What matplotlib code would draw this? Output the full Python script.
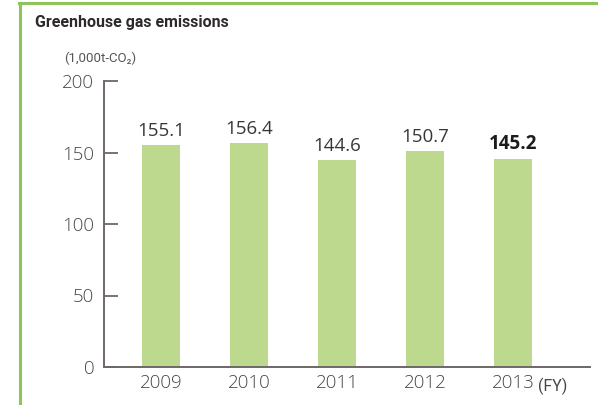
import matplotlib.pyplot as plt
from matplotlib.lines import Line2D

years = ["2009", "2010", "2011", "2012", "2013"]
emissions = [155.1, 156.4, 144.6, 150.7, 145.2]
y_ticks = [0, 50, 100, 150, 200]

BAR_COLOR = "#bcd98e"
AXIS_COLOR = "#6e6767"
TEXT_COLOR = "#4a4545"
FRAME_COLOR = "#8cc65a"

plt.rcParams["font.family"] = ["Open Sans", "DejaVu Sans"]

fig = plt.figure(figsize=(5.98, 4.05), dpi=100)

# green frame on the left and top
fig.add_artist(Line2D([20 / 598, 20 / 598], [0, 402 / 405], color=FRAME_COLOR, lw=2.2,
                      transform=fig.transFigure))
fig.add_artist(Line2D([19 / 598, 1], [402 / 405, 402 / 405], color=FRAME_COLOR, lw=2.2,
                      transform=fig.transFigure))

ax = fig.add_axes([104 / 598, 38 / 405, 486 / 598, 286 / 405])
x = list(range(len(years)))
ax.bar(x, emissions, width=0.43, color=BAR_COLOR, zorder=2)

ax.set_xlim(-0.648, 4.875)
ax.set_ylim(0, 200)
ax.set_yticks(y_ticks)
ax.set_yticklabels([str(v) for v in y_ticks], fontsize=13.5, color=TEXT_COLOR, fontweight="light")
ax.set_xticks(x)
ax.set_xticklabels(years, fontsize=13.5, color=TEXT_COLOR, fontweight="light")
ax.tick_params(axis="y", direction="in", length=10, width=1.3, color=AXIS_COLOR, pad=7)
ax.tick_params(axis="x", length=0, pad=5)

for side in ("top", "right"):
    ax.spines[side].set_visible(False)
for side in ("left", "bottom"):
    ax.spines[side].set_color(AXIS_COLOR)
    ax.spines[side].set_linewidth(1.4)

for i, v in enumerate(emissions):
    bold = i == len(emissions) - 1
    ax.annotate(f"{v:.1f}", xy=(i, v), xytext=(0, 4), textcoords="offset points",
                ha="center", va="bottom", fontsize=13.5,
                color="#1e1b1b" if bold else "#3a3636",
                fontweight="bold" if bold else "normal")

# fiscal-year marker after the last year label
ax.annotate("(FY)", xy=(4.28, 0), xycoords=("data", "axes fraction"),
            xytext=(0, -7.5), textcoords="offset points", ha="left", va="top",
            fontsize=11.5, color=TEXT_COLOR, family=["Roboto", "DejaVu Sans"])

fig.text(35 / 598, 1 - 22 / 405, "Greenhouse gas emissions", fontsize=11.5,
         color="#2e2a2a", ha="left", va="center",
         family=["Roboto", "DejaVu Sans"], fontweight="bold")
fig.text(64 / 598, 1 - 58 / 405, "(1,000t-CO₂)", fontsize=9.5, color="#5a5555",
         ha="left", va="center", family=["Roboto", "DejaVu Sans"])

fig.savefig("out.png", dpi=100)
